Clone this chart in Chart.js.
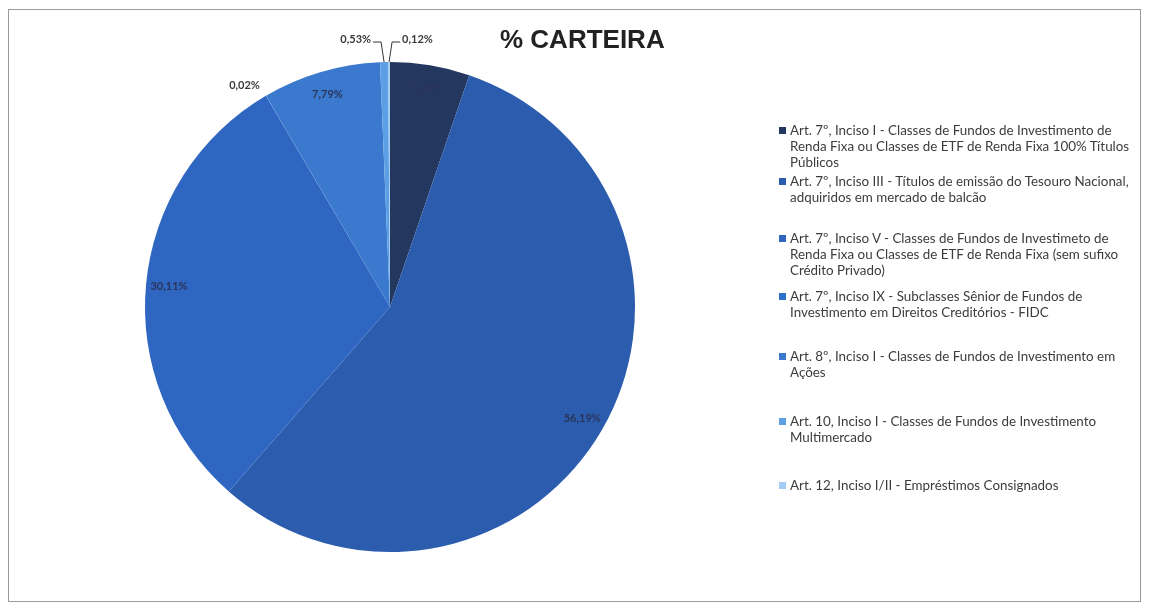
<!DOCTYPE html>
<html>
<head>
<meta charset="utf-8">
<script src="https://cdn.jsdelivr.net/npm/chart.js@4/dist/chart.umd.min.js"></script>
<style>
    body { margin: 0; background: #fff; }
    #wrap { position: relative; width: 1152px; height: 610px; overflow: hidden; }
    #frame { position: absolute; left: 8px; top: 9px; width: 1133px; height: 593px; border: 1px solid #9a9a9a; box-sizing: border-box; }
    #title { position: absolute; left: 500px; top: 24px; font: bold 26px "Liberation Sans", Arial, sans-serif; color: #222; }
    #legend { position: absolute; left: 778px; top: 0; font: 13.4px Lato, "Open Sans", sans-serif; color: #3c3c3c; }
    .item { position: absolute; left: 0; white-space: nowrap; line-height: 16px; }
    .item span.box { position: absolute; left: 1px; top: 5px; width: 7px; height: 7px; }
    .item div { padding-left: 12px; }
</style>
</head>
<body>
<div id="wrap">
    <div id="frame"></div>
    <canvas id="pieChart" width="1152" height="610"></canvas>
    <div id="title">% CARTEIRA</div>
    <div id="legend"></div>
</div>
<script>
// Dados da carteira
const categories = [
    ['Art. 7º, Inciso I - Classes de Fundos de Investimento de', 'Renda Fixa ou Classes de ETF de Renda Fixa 100% Títulos', 'Públicos'],
    ['Art. 7º, Inciso III - Títulos de emissão do Tesouro Nacional,', 'adquiridos em mercado de balcão'],
    ['Art. 7º, Inciso V - Classes de Fundos de Investimeto de', 'Renda Fixa ou Classes de ETF de Renda Fixa (sem sufixo', 'Crédito Privado)'],
    ['Art. 7º, Inciso IX - Subclasses Sênior de Fundos de', 'Investimento em Direitos Creditórios - FIDC'],
    ['Art. 8º, Inciso I - Classes de Fundos de Investimento em', 'Ações'],
    ['Art. 10, Inciso I - Classes de Fundos de Investimento', 'Multimercado'],
    ['Art. 12, Inciso I/II - Empréstimos Consignados']
];
const values = [5.24, 56.19, 30.11, 0.02, 7.79, 0.53, 0.12];
const colors = ['#24375f', '#2b5cae', '#2e66c2', '#2f6fcc', '#3b79cf', '#5d9fe4', '#a3cdf2'];

// layout da legenda e das linhas de chamada
const legendTops = [122, 173, 230, 288, 348, 413, 477];
const leaderDir = [0, 0, 0, 0, 0, -1, 1];

function fmt(v) {
    return v.toFixed(2).replace('.', ',') + '%';
}

// Legenda em HTML
const legendDiv = document.getElementById('legend');
categories.forEach((lines, i) => {
    const item = document.createElement('div');
    item.className = 'item';
    item.style.top = legendTops[i] + 'px';
    item.innerHTML = `<span class="box" style="background:${colors[i]}"></span>` +
        lines.map(l => `<div>${l}</div>`).join('');
    legendDiv.appendChild(item);
});

// Rótulos de dados
const labelPlugin = {
    id: 'pieLabels',
    afterDatasetsDraw(chart) {
        const ctx = chart.ctx;
        const meta = chart.getDatasetMeta(0);
        ctx.save();
        ctx.font = 'bold 11px Lato, "Open Sans", sans-serif';
        ctx.textBaseline = 'middle';
        meta.data.forEach((arc, i) => {
            const v = values[i];
            const mid = (arc.startAngle + arc.endAngle) / 2;
            const R = arc.outerRadius;
            const cx = arc.x, cy = arc.y;
            if (v >= 1) {
                const r = R - 23;
                ctx.fillStyle = '#2a3558';
                ctx.textAlign = 'center';
                ctx.fillText(fmt(v), cx + Math.cos(mid) * r, cy + Math.sin(mid) * r);
            } else if (leaderDir[i] === 0) {
                const r = R + 12;
                const x = cx + Math.cos(mid) * r;
                const y = cy + Math.sin(mid) * r;
                ctx.fillStyle = '#3a3a3a';
                ctx.textAlign = x < cx ? 'right' : 'left';
                ctx.fillText(fmt(v), x, y);
            } else {
                const d = leaderDir[i];
                const px = cx + Math.cos(mid) * R;
                const py = cy + Math.sin(mid) * R;
                const topY = cy - R - 20;
                ctx.strokeStyle = '#333';
                ctx.lineWidth = 1;
                ctx.beginPath();
                ctx.moveTo(px, py);
                ctx.lineTo(px + d * 3, topY);
                ctx.lineTo(px + d * 11, topY);
                ctx.stroke();
                ctx.fillStyle = '#3a3a3a';
                ctx.textAlign = d < 0 ? 'right' : 'left';
                ctx.fillText(fmt(v), px + d * 13, topY - 3);
            }
        });
        ctx.restore();
    }
};

const pieChart = new Chart(document.getElementById('pieChart').getContext('2d'), {
    type: 'pie',
    data: {
        labels: categories.map(l => l.join(' ')),
        datasets: [{
            data: values,
            backgroundColor: colors,
            borderWidth: 0
        }]
    },
    options: {
        responsive: false,
        animation: false,
        devicePixelRatio: 1,
        layout: { padding: { left: 145, right: 517, top: 62, bottom: 58 } },
        plugins: {
            legend: { display: false },
            title: { display: false },
            tooltip: { enabled: false }
        }
    },
    plugins: [labelPlugin]
});
</script>
</body>
</html>
